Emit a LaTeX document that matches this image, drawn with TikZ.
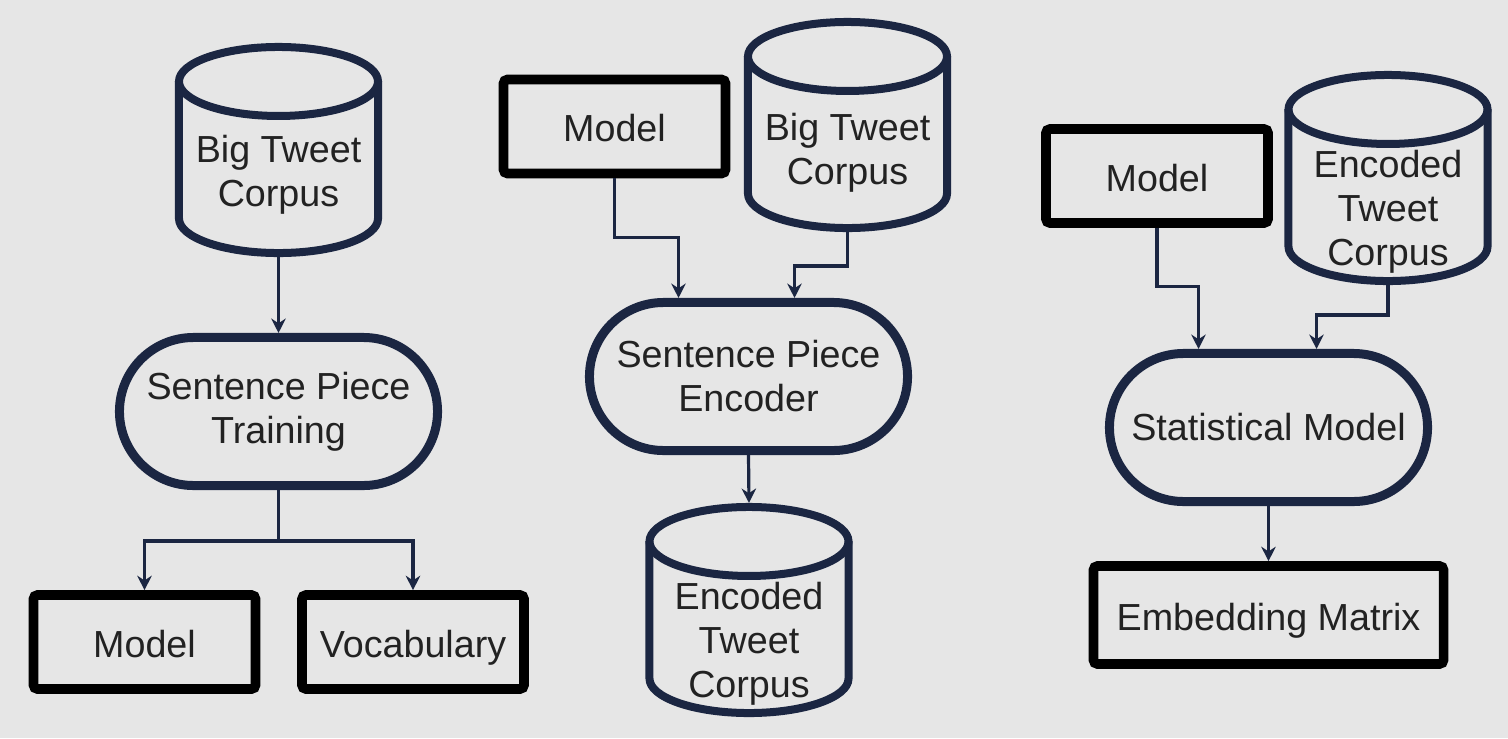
\documentclass[tikz,border=0pt]{standalone}
\usepackage{fontspec}
\setmainfont{Liberation Sans}
\usepackage{tikz}
\usetikzlibrary{arrows.meta, calc}
\definecolor{navy}{RGB}{27,38,66}
\definecolor{bggray}{RGB}{230,230,230}
\definecolor{ink}{RGB}{34,34,34}
\newcommand{\diagfont}{\fontsize{26.8}{31.3}\selectfont}
\tikzstyle{flow}=[navy, line width=0.08cm, -{Stealth[length=0.36cm,width=0.36cm]}]
\tikzstyle{proc}=[draw=navy, line width=0.225cm, rounded corners=1.85cm, minimum width=7.95cm, minimum height=3.7cm, align=center, text=ink, font=\diagfont]
\tikzstyle{item}=[draw=black, line width=0.24cm, rounded corners=0.1cm, minimum width=5.55cm, minimum height=2.35cm, text height=26.8pt, text depth=5.4pt, text=ink, font=\diagfont]
\tikzstyle{corpus}=[minimum width=5.175cm, minimum height=5.35cm, inner sep=0pt, outer sep=0pt]
\tikzstyle{dbline}=[draw=navy, line width=0.2cm]
\tikzstyle{lbl}=[align=center, text=ink, font=\diagfont]
% cylinder: name, x, y, text, text offset
\newcommand{\corpusdb}[5]{%
  \node[corpus] (#1) at (#2,#3) {};
  \draw[dbline] ($(#1.north west)+(4,38.5)$) -- ($(#1.south west)+(4,-38.5)$)
    arc[start angle=180, end angle=360, x radius=2.4875cm, y radius=0.8625cm]
    -- ($(#1.north east)+(-4,38.5)$);
  \draw[dbline] ($(#1.north)+(0,38.5)$) ellipse[x radius=2.4875cm, y radius=0.8625cm];
  \node[lbl] (#1txt) at ($(#1)+(0,#5)$) {#4};
}

\begin{document}
\begin{tikzpicture}[x=0.025cm, y=-0.025cm]
    \fill[bggray] (0,0) rectangle (1508,738);
    \useasboundingbox (0,0) rectangle (1508,738);

    % training
    \corpusdb{bigL}{278.5}{150}{Big Tweet\\Corpus}{25}
    \node[proc] (trainL) at (278.5,411.5) {Sentence Piece\\Training};
    \node[item] (modelL) at (144.5,642) {Model};
    \node[item] (vocabL) at (413,642) {Vocabulary};
    \draw[flow] (bigL.south) -- (trainL.north);
    \draw[flow] (trainL.south) -- ++(0,51) -| (modelL.north);
    \draw[flow] (trainL.south) -- ++(0,51) -| (vocabL.north);

    % encoding
    \node[item] (modelM) at (614.5,126.5) {Model};
    \corpusdb{bigM}{847.5}{125}{Big Tweet\\Corpus}{28}
    \node[proc] (encM) at (748.5,376.5) {Sentence Piece\\Encoder};
    \corpusdb{encodedM}{749}{610}{Encoded\\Tweet\\Corpus}{34}
    \draw[flow] (modelM.south) -- ++(0,59) -| ($(encM.north)+(-70,0)$);
    \draw[flow] (bigM.south) -- ++(0,34) -| ($(encM.north)+(46,0)$);
    \draw[flow] (encM.south) -- (encodedM.north);

    % embedding
    \node[item] (modelR) at (1157,176) {Model};
    \corpusdb{encodedR}{1388}{178}{Encoded\\Tweet\\Corpus}{34}
    \node[proc] (statR) at (1268.5,427.5) {Statistical Model};
    \node[item, minimum width=8.75cm, minimum height=2.45cm] (embedR) at (1268.5,615) {Embedding Matrix};
    \draw[flow] (modelR.south) -- ++(0,59) -| ($(statR.north)+(-70,0)$);
    \draw[flow] (encodedR.south) -- ++(0,30) -| ($(statR.north)+(48,0)$);
    \draw[flow] (statR.south) -- (embedR.north);
\end{tikzpicture}
\end{document}
